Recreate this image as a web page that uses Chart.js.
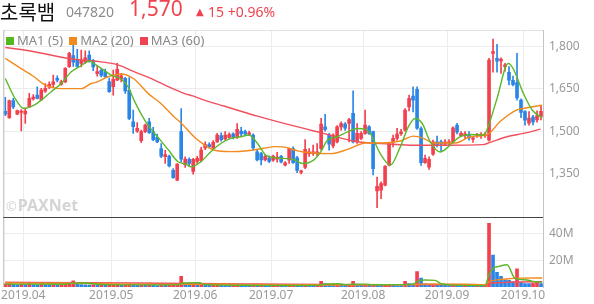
<!DOCTYPE html>
<html>
<head>
<meta charset="utf-8">
<script src="https://cdn.jsdelivr.net/npm/chart.js@4.4.1/dist/chart.umd.min.js"></script>
<style>
  html, body { margin: 0; padding: 0; background: #fff; }
  #wrap { position: relative; width: 594px; height: 304px; overflow: hidden; font-family: 'Noto Sans', 'Noto Sans CJK KR', sans-serif; }
  #chart { position: absolute; left: 0; top: 0; }
  .t { position: absolute; white-space: nowrap; line-height: 1; }
  .name { left: 0; top: 2px; font-size: 20px; color: #111; font-family: 'Noto Sans CJK KR', sans-serif; }
  .code { left: 66px; top: 5px; font-size: 14px; color: #8c8c8c; }
  .price { left: 129px; top: -2px; font-size: 21px; color: #f0434f; }
  .tri { left: 196px; top: 7px; font-size: 10px; color: #f0434f; font-family: 'DejaVu Sans', sans-serif; }
  .chg { left: 208px; top: 5px; font-size: 14px; color: #f0434f; }
  .legend { left: 6px; top: 34px; font-size: 13px; color: #888; }
  .legend span.sq { display: inline-block; width: 8px; height: 8px; vertical-align: 0px; margin-right: 3px; }
  .legend span.lb { margin-right: 6px; }
  .mark { left: 6px; top: 197px; font-size: 16px; font-weight: bold; color: #d4d4d4; }
  .mark small { font-size: 13px; font-weight: normal; margin-right: 1px; }
</style>
</head>
<body>
<div id="wrap">
  <canvas id="chart" width="594" height="304"></canvas>
  <div class="t name">초록뱀</div>
  <div class="t code">047820</div>
  <div class="t price">1,570</div>
  <div class="t tri">▲</div>
  <div class="t chg">15 +0.96%</div>
  <div class="t legend">
    <span class="sq" style="background:#52b81e"></span><span class="lb">MA1 (5)</span><span class="sq" style="background:#f28a1e"></span><span class="lb">MA2 (20)</span><span class="sq" style="background:#ef424f"></span><span class="lb">MA3 (60)</span>
  </div>
  <div class="t mark"><small>©</small>PAXNet</div>
</div>
<script>
// daily candles, 2019-03-25 .. 2019-10-08 (index 0..134)
var openP = [1570,1548,1608,1560,1566,1561,1586,1614,1628,1611,1642,1656,1666,1687,1666,1675,1729,1768,1752,1740,
  1745,1770,1750,1704,1716,1711,1676,1658,1681,1684,1687,1645,1533,1500,1466,1498,1533,1498,1478,1438,
  1409,1411,1361,1326,1498,1381,1400,1357,1392,1395,1440,1452,1440,1462,1484,1472,1478,1490,1478,1500,
  1498,1488,1486,1426,1420,1398,1404,1397,1400,1410,1379,1397,1438,1405,1353,1371,1420,1420,1420,1438,
  1515,1486,1447,1462,1515,1525,1527,1563,1462,1474,1492,1515,1498,1288,1290,1308,1379,1462,1474,1491,
  1503,1586,1624,1648,1509,1388,1372,1418,1462,1462,1454,1456,1462,1521,1484,1484,1488,1471,1484,1484,
  1484,1468,1776,1758,1749,1729,1709,1680,1672,1610,1569,1528,1550,1540,1552];
var highP = [1620,1610,1616,1575,1576,1583,1634,1630,1657,1652,1669,1675,1699,1696,1681,1726,1780,1810,1790,1788,
  1785,1785,1755,1730,1722,1720,1688,1717,1741,1705,1691,1690,1575,1530,1504,1525,1545,1513,1489,1456,
  1432,1415,1367,1385,1580,1409,1405,1403,1410,1442,1462,1458,1466,1492,1494,1498,1494,1494,1527,1513,
  1504,1500,1490,1432,1425,1415,1412,1415,1425,1414,1392,1440,1444,1410,1362,1470,1438,1450,1456,1545,
  1560,1492,1490,1520,1533,1530,1545,1643,1527,1498,1575,1520,1500,1337,1320,1378,1460,1486,1510,1506,
  1580,1628,1657,1657,1515,1415,1409,1468,1482,1468,1470,1470,1515,1528,1498,1498,1498,1480,1492,1495,
  1495,1758,1827,1808,1760,1741,1729,1695,1776,1615,1573,1569,1556,1572,1588];
var lowP = [1555,1545,1580,1558,1501,1527,1585,1610,1614,1608,1637,1651,1657,1675,1663,1672,1726,1730,1726,1728,
  1740,1745,1715,1695,1692,1690,1637,1628,1679,1675,1634,1541,1492,1495,1459,1494,1492,1466,1459,1406,
  1385,1373,1332,1324,1391,1371,1375,1347,1385,1391,1434,1440,1436,1460,1464,1468,1474,1472,1474,1484,
  1484,1484,1432,1394,1380,1394,1388,1392,1390,1387,1376,1385,1385,1352,1348,1367,1410,1414,1410,1432,
  1500,1432,1440,1458,1503,1502,1462,1458,1456,1470,1488,1488,1344,1228,1260,1305,1376,1444,1468,1485,
  1500,1572,1568,1506,1378,1385,1364,1414,1444,1430,1448,1450,1458,1490,1480,1474,1468,1460,1478,1474,
  1478,1464,1709,1709,1705,1713,1664,1660,1610,1548,1521,1521,1522,1532,1540];
var closeP = [1560,1608,1586,1573,1571,1571,1616,1621,1616,1646,1652,1666,1675,1681,1675,1723,1776,1745,1730,1752,
  1760,1750,1728,1711,1698,1693,1640,1684,1719,1696,1643,1545,1516,1510,1498,1521,1494,1470,1462,1411,
  1417,1376,1335,1383,1400,1401,1385,1400,1403,1433,1452,1445,1460,1486,1470,1486,1488,1478,1506,1490,
  1490,1494,1440,1398,1398,1410,1392,1411,1408,1391,1387,1438,1388,1360,1359,1435,1426,1426,1426,1525,
  1506,1454,1486,1515,1527,1510,1541,1462,1492,1492,1521,1492,1367,1304,1314,1375,1455,1474,1489,1497,
  1575,1616,1610,1510,1388,1403,1400,1462,1450,1454,1462,1462,1512,1496,1492,1490,1476,1476,1488,1488,
  1489,1752,1782,1748,1756,1735,1681,1665,1618,1566,1539,1546,1533,1555,1570];
// volume in millions of shares
var volume = [2.4,2.8,2.0,1.6,2.2,1.8,2.5,1.9,1.7,2.3,1.8,1.6,2.0,1.5,1.7,2.6,3.5,4.7,2.4,1.9,
  1.6,1.5,1.8,1.3,1.5,1.2,1.6,1.9,2.1,1.4,1.6,2.2,1.8,1.3,1.4,1.2,1.5,1.3,1.1,1.6,
  1.4,1.5,1.7,2.4,8.0,2.6,1.9,2.2,1.5,1.8,1.4,1.2,1.3,1.6,1.2,1.1,1.0,1.2,1.5,1.1,
  1.0,0.9,1.4,1.2,1.3,1.0,0.9,1.0,1.1,0.9,0.8,1.3,1.6,1.4,0.9,1.8,1.2,1.0,1.1,4.2,
  2.5,1.9,1.6,1.8,1.5,1.2,1.4,4.2,2.0,1.3,1.6,1.4,2.0,1.8,1.3,1.5,1.7,1.2,1.1,1.0,
  4.2,2.5,2.2,11.7,6.7,2.4,1.9,2.2,1.6,1.4,1.2,1.1,1.5,1.3,1.0,1.1,0.9,0.8,1.0,0.9,
  1.2,48,24,11,8,5.2,5.0,4.0,13.7,3.5,2.6,2.5,3.0,4.0,2.5];

// moving averages: [day index, value]
var ma1Pts = [[0,1687],[2.2,1622],[4.7,1580],[7.2,1592],[9,1610],[11.5,1640],[14,1669],[16.5,1711],[19,1732],[21,1749],
  [22.7,1735],[24,1723],[26.5,1699],[29,1684],[30.7,1658],[32.2,1610],[33.9,1563],[35.7,1521],[38.2,1478],[40.7,1435],
  [43.2,1391],[45.2,1383],[46.4,1373],[48.9,1391],[51.4,1427],[53.9,1456],[56.4,1474],[58.9,1480],[60.9,1486],[63.1,1456],
  [65.1,1415],[67.6,1405],[69.6,1403],[72.1,1399],[74.4,1385],[77.1,1397],[78.9,1426],[80.6,1468],[83.1,1480],[85.6,1497],
  [88.1,1509],[90.1,1506],[91.3,1491],[93.8,1420],[96.3,1379],[98.8,1444],[100.8,1515],[102.5,1545],[104.3,1527],[106.3,1462],
  [108.8,1426],[110.8,1444],[112.6,1468],[113.8,1480],[116.3,1488],[119.6,1486],[120.6,1509],[123,1616],[125.8,1740],[127,1723],
  [129.6,1634],[131.8,1575],[134.3,1547]];
var ma2Pts = [[0,1758],[3.2,1729],[7.2,1693],[9.7,1666],[14,1651],[19,1651],[21.5,1669],[22.7,1673],[25.7,1693],[29,1703],
  [32.2,1685],[35.7,1634],[38.9,1598],[42.2,1551],[43.9,1530],[47.2,1480],[49.7,1452],[52.2,1433],[56.4,1427],[60.6,1430],
  [64.6,1439],[67.6,1445],[69.6,1444],[73.1,1430],[76.4,1423],[81.4,1420],[85.6,1435],[90.1,1458],[93.8,1458],[98.8,1465],
  [102.1,1482],[104.6,1474],[107.1,1458],[112.6,1458],[116.3,1480],[120.6,1488],[123.7,1533],[128,1575],[130.5,1583],[134.3,1592]];
var ma3Pts = [[0,1797],[7.2,1782],[15.7,1758],[19.7,1752],[24,1746],[28.2,1735],[32.2,1711],[36.4,1687],[40.7,1658],[44.7,1634],
  [46.9,1625],[49.4,1612],[54.7,1589],[63.1,1553],[71.4,1521],[79.6,1492],[88.1,1462],[96.3,1454],[102,1450],[110.6,1450],
  [119.5,1452],[121.3,1460],[125.5,1480],[129.6,1492],[133.9,1507]];
var volMa1Pts = [[0,2.2],[15,2.1],[17,2.9],[20,3.0],[22,2.4],[25,1.8],[35,1.6],[43,1.6],[44.5,3.0],[48.5,3.2],
  [50,1.8],[60,1.3],[70,1.1],[78,1.2],[80,2.2],[83.5,2.4],[85,1.8],[87,2.1],[90,2.2],[92,1.7],
  [100,1.8],[102,2.3],[103.5,4.8],[105,5.3],[107.5,5.0],[109,2.5],[111,1.6],[115,1.2],[120,1.0],[121,9.5],
  [122,14],[123.5,15.5],[125.5,16.7],[127.5,6.5],[130.5,5.3],[132,4.2],[134.3,3.4]];
var volMa2Pts = [[0,3.0],[15,2.8],[22,2.6],[30,2.2],[45,2.0],[55,2.1],[60,1.8],[80,1.5],[90,1.7],[100,1.6],
  [105,2.3],[115,2.2],[120,1.8],[121,4.1],[123,5.4],[125,6.0],[128,6.7],[134.3,6.8]];
var volMa3Pts = [[0,3.6],[20,3.3],[40,2.8],[60,2.3],[80,1.9],[100,1.8],[120,1.8],[121,2.6],[124,3.3],[128,3.8],[134.3,4.0]];

var priceTicks = [1350, 1500, 1650, 1800];
var volTicks = [20, 40];
var monthStart = [5, 27, 48, 67, 90, 111, 130];
var monthLabels = ['2019.04', '2019.05', '2019.06', '2019.07', '2019.08', '2019.09', '2019.10'];

var UP = '#f2404e', DOWN = '#2a86e6';
var GREEN = '#5cb82a', ORANGE = '#f28a1e', RED = '#f0505c';
var GRID = '#ececec';

var idx = closeP.map(function (v, i) { return i; });
function candleColor(ctx) { var i = ctx.dataIndex; return closeP[i] >= openP[i] ? UP : DOWN; }
function volColor(ctx) { var i = ctx.dataIndex; return (i === 0 || volume[i] >= volume[i - 1]) ? UP : DOWN; }
function pts(arr) { return arr.map(function (p) { return {x: p[0], y: p[1]}; }); }
function maLine(arr, color, axis) {
  return {type: 'line', data: pts(arr), yAxisID: axis, borderColor: color, borderWidth: 1.4,
    pointRadius: 0, cubicInterpolationMode: 'monotone', order: 0};
}

var frame = {
  id: 'frame',
  afterDraw: function (chart) {
    var a = chart.chartArea, ctx = chart.ctx, yv = chart.scales.yv;
    ctx.save();
    ctx.lineWidth = 1;
    ctx.strokeStyle = '#e2e2e2';
    ctx.beginPath(); ctx.moveTo(a.left, a.top + 0.5); ctx.lineTo(a.right, a.top + 0.5); ctx.stroke();
    ctx.strokeStyle = '#b8b8b8';
    ctx.beginPath(); ctx.moveTo(a.left + 0.5, a.top); ctx.lineTo(a.left + 0.5, a.bottom); ctx.stroke();
    ctx.strokeStyle = '#444';
    ctx.beginPath(); ctx.moveTo(a.left, Math.round(yv.top) + 0.5); ctx.lineTo(a.right, Math.round(yv.top) + 0.5); ctx.stroke();
    ctx.restore();
  }
};

new Chart(document.getElementById('chart'), {
  type: 'bar',
  data: {
    datasets: [
      maLine(ma1Pts, GREEN, 'y'),
      maLine(ma2Pts, ORANGE, 'y'),
      maLine(ma3Pts, RED, 'y'),
      {data: idx.map(function (i) { return {x: i, y: [openP[i], closeP[i]]}; }), yAxisID: 'y',
        backgroundColor: candleColor, barThickness: 3, minBarLength: 1, grouped: false, order: 1},
      {data: idx.map(function (i) { return {x: i, y: [lowP[i], highP[i]]}; }), yAxisID: 'y',
        backgroundColor: candleColor, barThickness: 1, grouped: false, order: 2},
      maLine(volMa1Pts, GREEN, 'yv'),
      maLine(volMa2Pts, ORANGE, 'yv'),
      maLine(volMa3Pts, RED, 'yv'),
      {data: idx.map(function (i) { return {x: i, y: volume[i]}; }), yAxisID: 'yv',
        backgroundColor: volColor, barThickness: 3, grouped: false, order: 1}
    ]
  },
  options: {
    responsive: false,
    animation: false,
    devicePixelRatio: 1,
    layout: {padding: {left: 2, top: 30, right: 0, bottom: 0}},
    plugins: {legend: {display: false}, tooltip: {enabled: false}},
    scales: {
      x: {
        type: 'linear', min: -0.5, max: 134.5, offset: false,
        grid: {color: GRID, offset: false, drawTicks: false},
        border: {display: false},
        afterBuildTicks: function (s) { s.ticks = monthStart.map(function (v) { return {value: v - 0.5}; }); },
        afterFit: function (s) { s.height = 17; },
        ticks: {
          padding: 1, color: '#999', font: {family: "'Noto Sans', sans-serif", size: 12}, maxRotation: 0,
          callback: function (v, i) { return monthLabels[i]; }
        }
      },
      y: {
        type: 'linear', position: 'right', stack: 'panes', stackWeight: 187, offset: false,
        min: 1195, max: 1859,
        grid: {color: GRID, drawTicks: false},
        border: {display: true, color: '#c4c4c4'},
        afterBuildTicks: function (s) { s.ticks = priceTicks.map(function (v) { return {value: v}; }); },
        afterFit: function (s) { s.width = 51; },
        ticks: {
          padding: 6, color: '#999', font: {family: "'Noto Sans', sans-serif", size: 12},
          callback: function (v) { return v.toLocaleString('en-US'); }
        }
      },
      yv: {
        type: 'linear', position: 'right', stack: 'panes', stackWeight: 70, offset: false,
        min: 0, max: 52.7,
        grid: {color: GRID, drawTicks: false},
        border: {display: true, color: '#c4c4c4'},
        afterBuildTicks: function (s) { s.ticks = volTicks.map(function (v) { return {value: v}; }); },
        afterFit: function (s) { s.width = 51; },
        ticks: {
          padding: 6, color: '#999', font: {family: "'Noto Sans', sans-serif", size: 12},
          callback: function (v) { return v + 'M'; }
        }
      }
    }
  },
  plugins: [frame]
});
</script>
</body>
</html>
